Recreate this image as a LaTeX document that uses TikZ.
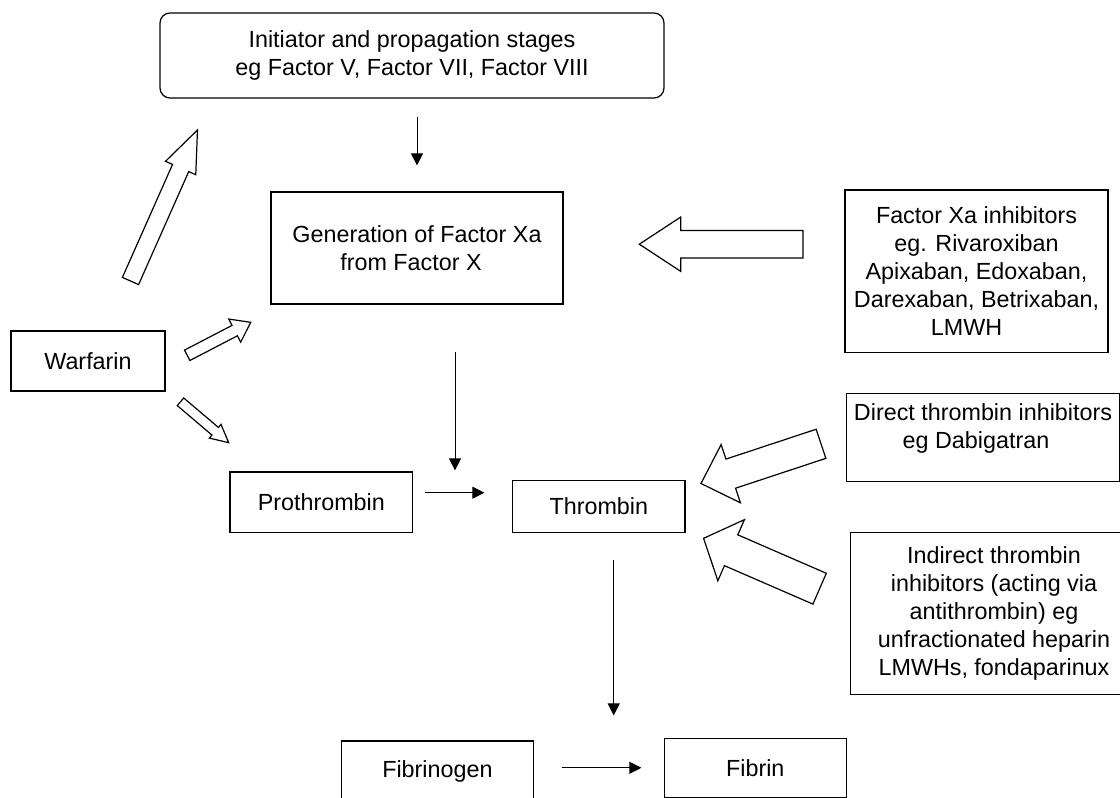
\documentclass[tikz,border=0pt]{standalone}
\usepackage{fontspec}
\setmainfont{Liberation Sans}
\usetikzlibrary{calc,arrows.meta}
% #1 tail, #2 tip, #3 half shaft, #4 half head, #5 head length
\newcommand\blockarrow[5]{%
  \coordinate (ba-h) at ($(#2)!#5!(#1)$);
  \draw[blockarr] ($(#1)!#3!90:(#2)$) -- ($(ba-h)!#3!-90:(#1)$) -- ($(ba-h)!#4!-90:(#1)$) -- (#2)
    -- ($(ba-h)!#4!90:(#1)$) -- ($(ba-h)!#3!90:(#1)$) -- ($(#1)!#3!-90:(#2)$) -- cycle;
}
\begin{document}
\begin{tikzpicture}[x=0.75pt,y=-0.75pt,
  box/.style={draw, line width=0.9pt, inner sep=0pt, align=center, font=\fontsize{17.5pt}{21pt}\selectfont},
  txt/.style={inner sep=0pt, align=center, font=\fontsize{17.5pt}{21pt}\selectfont},
  arr/.style={line width=0.75pt, -{Triangle[length=9pt,width=9pt]}},
  blockarr/.style={draw, fill=white, line width=0.9pt, line join=miter}]
\clip (0,0) rectangle (1120,798);
\fill[white] (0,0) rectangle (1120,798);

\node[box, rounded corners=7.5pt, minimum width=378pt, minimum height=63.75pt] (top) at (412,55.5)
  {Initiator and propagation stages\\eg Factor V, Factor VII, Factor VIII};
\node[box, minimum width=219pt, minimum height=84pt] (gen) at (417,248)
  {Generation of Factor Xa\\from Factor X\hspace*{9pt}};
\node[box, minimum width=115.5pt, minimum height=45pt] (war) at (88,361) {Warfarin};
\node[box, minimum width=136.9pt, minimum height=45.4pt] (pro) at (321.3,502.3) {Prothrombin};
\node[box, minimum width=129.2pt, minimum height=39.2pt] (thr) at (598.8,506.6) {Thrombin};
\node[box, minimum width=144.2pt, minimum height=46pt] (fbg) at (437.4,771.7) {Fibrinogen};
\node[box, minimum width=136.4pt, minimum height=44.25pt] (fib) at (755.3,767.8) {Fibrin};
\node[box, minimum width=197.25pt, minimum height=121.7pt] (fxa) at (976.5,271.2)
  {Factor Xa inhibitors\\eg. Rivaroxiban\\Apixaban, Edoxaban,\\Darexaban, Betrixaban,\\LMWH\hspace*{15pt}};
\node[box, minimum width=204.5pt, minimum height=66.3pt] (dir) at (983,437.5) {};
\node[txt] (dirtext) at (983,428.8) {Direct thrombin inhibitors\\eg Dabigatran\hspace*{10.5pt}};
\node[box, minimum width=215pt, minimum height=121.5pt] (ind) at (994,613.3)
  {Indirect thrombin\\inhibitors (acting via\\antithrombin) eg\\unfractionated heparin\\LMWHs, fondaparinux};

% thin arrows
\draw[arr, shorten <=13.5pt, shorten >=19.5pt] (top.south -| gen.north) -- (gen.north);
\coordinate (g2t) at ($(gen.south)+(38,0)$);
\draw[arr, shorten <=35.25pt, shorten >=7.1pt] (g2t) -- (g2t |- thr.north);
\coordinate (p2t) at ($(pro.east)+(0,-9.6)$);
\draw[arr, shorten <=8.85pt, shorten >=20.8pt] (p2t) -- (p2t -| thr.west);
\coordinate (t2f) at ($(thr.south)+(14.9,0)$);
\draw[arr, shorten <=19.7pt, shorten >=16.7pt] (t2f) -- (t2f |- fib.north);
\draw[arr, shorten <=20.6pt, shorten >=16.8pt] (fib.west -| fbg.east) -- (fib.west);

% block arrows
\coordinate (a1t) at (130.5,281);   \coordinate (a1h) at (197.5,130);
\coordinate (a2t) at (187.2,355.3); \coordinate (a2h) at (250.7,322.3);
\coordinate (a3t) at (180.5,401.8); \coordinate (a3h) at (228.7,442.7);
\coordinate (a4t) at (802.9,244.2); \coordinate (a4h) at (639.3,244.2);
\coordinate (a5t) at (821,443.8);   \coordinate (a5h) at (701,483.5);
\coordinate (a6t) at (819.6,588.7); \coordinate (a6h) at (703.6,538.3);
\blockarrow{a1t}{a1h}{6.64pt}{12.4pt}{31.2pt}
\blockarrow{a2t}{a2h}{4.39pt}{9.75pt}{13.5pt}
\blockarrow{a3t}{a3h}{3.75pt}{6.75pt}{13.3pt}
\blockarrow{a4t}{a4h}{10.3pt}{20.4pt}{31.1pt}
\blockarrow{a5t}{a5h}{11.5pt}{23pt}{23.5pt}
\blockarrow{a6t}{a6h}{12.6pt}{25pt}{22.5pt}
\end{tikzpicture}
\end{document}
